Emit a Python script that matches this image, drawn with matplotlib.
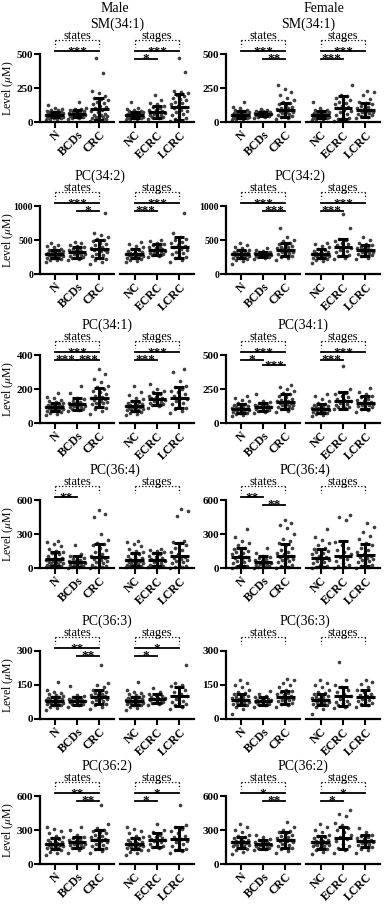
import numpy as np
import matplotlib.pyplot as plt

plt.rcParams['font.family'] = ['Liberation Serif', 'DejaVu Serif']
plt.rcParams['mathtext.fontset'] = 'stix'

states = ['N', 'BCDs', 'CRC']
stages = ['NC', 'ECRC', 'LCRC']
lipids = ['SM(34:1)', 'PC(34:2)', 'PC(34:1)', 'PC(36:4)', 'PC(36:3)', 'PC(36:2)']
ymax_male = [500, 1000, 400, 600, 300, 600]
ymax_female = [500, 1000, 500, 600, 300, 600]

# point values per group: N, BCDs, CRC, NC, ECRC, LCRC
m_sm341 = [
    [18, 22, 25, 28, 30, 33, 35, 38, 40, 42, 44, 46, 48, 50, 52, 54, 56, 58, 60, 62, 64, 66, 68, 70, 73, 76, 80, 85, 90, 95, 100, 122],
    [22, 28, 32, 36, 40, 44, 48, 52, 55, 58, 60, 62, 65, 68, 70, 74, 78, 82, 88, 92, 96, 100, 150],
    [5, 10, 15, 20, 25, 30, 35, 40, 45, 50, 55, 60, 70, 80, 90, 100, 110, 120, 130, 140, 150, 160, 170, 180, 190, 210, 230, 360, 470],
    [18, 22, 25, 28, 30, 33, 35, 38, 40, 42, 45, 48, 50, 52, 54, 56, 58, 60, 62, 65, 68, 70, 74, 78, 82, 88, 95, 100, 150],
    [25, 30, 35, 40, 45, 50, 55, 60, 65, 70, 75, 80, 85, 90, 100, 110, 120, 130, 140, 160, 200],
    [5, 10, 20, 30, 40, 50, 60, 70, 80, 90, 100, 110, 120, 130, 140, 150, 160, 170, 180, 190, 200, 210, 220, 230, 370, 470]]
f_sm341 = [
    [15, 20, 25, 28, 30, 33, 35, 38, 40, 43, 46, 49, 52, 55, 58, 60, 62, 65, 68, 70, 73, 76, 80, 85, 90, 100, 110, 150],
    [30, 35, 40, 44, 47, 50, 52, 54, 56, 58, 60, 62, 64, 66, 68, 70, 74, 78, 82, 88, 92],
    [20, 30, 40, 45, 50, 55, 60, 65, 70, 75, 80, 85, 90, 95, 100, 105, 110, 120, 130, 140, 150, 160, 180, 200, 220, 240, 270],
    [15, 20, 25, 28, 30, 33, 35, 38, 40, 43, 46, 49, 52, 55, 58, 60, 62, 65, 68, 70, 73, 76, 80, 85, 90, 100, 150],
    [10, 15, 20, 30, 40, 50, 60, 70, 80, 90, 100, 110, 120, 130, 140, 150, 160, 170, 180, 190, 200, 270],
    [30, 40, 45, 50, 55, 60, 65, 70, 75, 80, 85, 90, 95, 100, 110, 120, 130, 140, 150, 170, 200, 220, 230]]
m_pc342 = [
    [180, 200, 210, 220, 230, 240, 250, 255, 260, 270, 275, 280, 285, 290, 295, 300, 305, 310, 315, 320, 330, 340, 350, 360, 375, 390, 410, 430, 450],
    [200, 220, 235, 250, 260, 270, 280, 290, 300, 310, 320, 330, 340, 350, 360, 375, 390, 410, 430, 450, 470],
    [150, 180, 200, 220, 240, 260, 280, 300, 320, 340, 350, 360, 370, 380, 400, 420, 440, 460, 480, 500, 520, 550, 580, 600, 900],
    [180, 195, 210, 220, 230, 240, 250, 260, 270, 275, 280, 285, 290, 295, 300, 310, 320, 330, 340, 355, 370, 390, 410, 440, 470],
    [250, 265, 280, 290, 300, 310, 320, 330, 340, 350, 360, 370, 380, 390, 400, 420, 440, 460, 480, 500],
    [180, 210, 230, 250, 270, 290, 310, 330, 350, 370, 390, 410, 430, 450, 470, 500, 520, 550, 600, 900]]
f_pc342 = [
    [150, 190, 210, 220, 230, 240, 250, 260, 270, 275, 280, 285, 290, 295, 300, 305, 310, 320, 330, 340, 350, 360, 380, 400, 420, 450],
    [220, 235, 245, 255, 265, 270, 275, 280, 285, 290, 295, 300, 305, 310, 315, 320, 330, 340, 355, 380],
    [200, 230, 250, 270, 290, 300, 310, 320, 330, 340, 350, 360, 370, 380, 390, 400, 410, 420, 440, 460, 480, 500, 550, 680],
    [160, 190, 210, 220, 230, 240, 250, 260, 270, 275, 280, 285, 290, 295, 300, 310, 320, 330, 340, 350, 370, 390, 410, 440, 460],
    [220, 240, 260, 280, 300, 320, 340, 360, 380, 400, 420, 440, 460, 480, 500, 520, 680, 880],
    [220, 240, 260, 280, 290, 300, 310, 320, 330, 340, 350, 360, 370, 380, 390, 400, 420, 440, 460, 500, 540]]
m_pc341 = [
    [50, 55, 60, 65, 68, 72, 75, 78, 80, 83, 86, 88, 90, 92, 95, 98, 100, 103, 106, 110, 114, 118, 122, 128, 135, 145, 155, 175],
    [70, 75, 80, 85, 88, 92, 95, 98, 100, 104, 108, 112, 116, 120, 125, 130, 140, 150, 175, 220],
    [55, 70, 80, 90, 100, 110, 115, 120, 125, 130, 135, 140, 145, 150, 155, 160, 170, 180, 190, 200, 210, 220, 240, 260, 290, 320],
    [50, 55, 60, 65, 70, 74, 78, 82, 85, 88, 91, 94, 97, 100, 103, 106, 110, 115, 120, 125, 132, 140, 150, 165, 180, 220],
    [90, 100, 105, 110, 115, 120, 125, 130, 135, 140, 145, 150, 155, 160, 170, 180, 190, 200, 230],
    [60, 70, 80, 90, 100, 110, 120, 130, 140, 150, 160, 170, 180, 190, 200, 210, 220, 250, 300, 320]]
f_pc341 = [
    [50, 60, 65, 70, 75, 80, 84, 88, 92, 96, 100, 104, 108, 112, 116, 120, 125, 130, 135, 140, 150, 160, 170, 185, 200],
    [70, 80, 90, 95, 100, 105, 110, 115, 118, 121, 124, 127, 130, 135, 140, 145, 155, 165, 210],
    [80, 90, 100, 110, 115, 120, 125, 130, 135, 140, 145, 150, 155, 160, 165, 170, 180, 190, 200, 210, 220, 235, 250, 265, 280],
    [50, 60, 65, 70, 75, 80, 84, 88, 92, 96, 100, 104, 108, 112, 116, 120, 125, 130, 135, 140, 150, 160, 175, 200, 210],
    [100, 110, 115, 120, 125, 130, 140, 150, 160, 170, 180, 190, 200, 210, 220, 230, 250, 420],
    [80, 95, 105, 115, 120, 125, 130, 135, 140, 145, 150, 155, 160, 170, 180, 190, 200, 215, 230, 260]]
m_pc364 = [
    [5, 10, 15, 20, 25, 30, 35, 40, 45, 50, 55, 60, 65, 70, 75, 80, 90, 100, 110, 120, 130, 140, 150, 170, 190, 210, 230, 240],
    [3, 8, 12, 16, 20, 25, 30, 35, 40, 45, 50, 55, 60, 65, 70, 80, 90, 100, 110, 120, 200],
    [0, 5, 10, 15, 20, 30, 40, 50, 60, 70, 80, 90, 100, 110, 120, 140, 160, 180, 200, 210, 220, 250, 300, 450, 480, 510],
    [5, 10, 15, 20, 25, 30, 35, 40, 45, 50, 55, 60, 65, 70, 75, 80, 90, 100, 110, 120, 130, 140, 150, 170, 190, 210, 230, 240],
    [5, 10, 15, 20, 25, 30, 40, 50, 60, 70, 80, 90, 100, 110, 120, 130, 140, 150, 160, 170],
    [0, 5, 10, 20, 30, 40, 50, 60, 70, 80, 90, 100, 120, 140, 160, 180, 200, 220, 230, 240, 460, 500, 520]]
f_pc364 = [
    [0, 5, 10, 20, 30, 40, 50, 60, 70, 80, 90, 100, 110, 120, 130, 140, 150, 160, 170, 180, 200, 220, 240, 270, 340],
    [0, 5, 10, 15, 20, 25, 30, 35, 40, 45, 50, 55, 60, 70, 80, 90, 100, 110, 130, 180],
    [0, 10, 20, 30, 40, 50, 60, 70, 80, 90, 100, 110, 120, 130, 140, 160, 180, 200, 220, 240, 260, 300, 350, 380, 400, 420],
    [0, 5, 10, 20, 30, 40, 50, 60, 70, 80, 90, 100, 110, 120, 130, 140, 150, 160, 170, 180, 200, 220, 250, 270, 340],
    [0, 10, 20, 30, 40, 60, 80, 100, 120, 140, 160, 180, 200, 230, 420, 450, 470],
    [0, 10, 20, 30, 40, 50, 60, 70, 80, 90, 100, 110, 120, 140, 160, 180, 200, 220, 260, 280, 320, 360, 400]]
m_pc363 = [
    [40, 50, 55, 60, 63, 66, 68, 70, 72, 74, 76, 78, 80, 82, 84, 86, 88, 90, 92, 95, 98, 101, 105, 110, 115, 120, 130, 165],
    [55, 60, 64, 67, 70, 73, 76, 78, 80, 82, 84, 86, 88, 90, 93, 96, 100, 105, 145],
    [45, 55, 60, 65, 70, 75, 80, 85, 88, 92, 96, 100, 104, 108, 112, 116, 120, 125, 130, 140, 150, 160, 240],
    [40, 50, 55, 60, 63, 66, 68, 70, 72, 74, 76, 78, 80, 82, 84, 86, 88, 90, 92, 95, 98, 101, 105, 110, 115, 120, 130, 165],
    [60, 65, 70, 74, 78, 82, 85, 88, 91, 94, 97, 100, 105, 110, 120, 135],
    [45, 55, 60, 65, 70, 75, 80, 90, 100, 110, 120, 130, 140, 145, 150, 160, 240]]
f_pc363 = [
    [20, 45, 55, 60, 64, 68, 71, 74, 77, 80, 83, 86, 89, 92, 95, 98, 102, 106, 110, 115, 120, 130, 140, 150, 160, 170],
    [55, 60, 64, 68, 71, 74, 77, 80, 82, 84, 86, 88, 91, 95, 100, 110, 125],
    [55, 60, 65, 70, 74, 78, 82, 86, 90, 94, 98, 102, 106, 110, 115, 120, 125, 130, 140, 150, 160, 170, 175],
    [20, 45, 55, 60, 64, 68, 71, 74, 77, 80, 83, 86, 89, 92, 95, 98, 102, 106, 110, 115, 120, 130, 140, 150, 160, 170],
    [50, 55, 60, 65, 70, 75, 80, 90, 100, 110, 120, 130, 140, 150, 170, 250],
    [55, 60, 65, 70, 75, 80, 85, 90, 95, 100, 105, 110, 120, 130, 140, 155, 165, 170]]
m_pc362 = [
    [80, 100, 110, 120, 130, 140, 145, 150, 155, 160, 165, 170, 175, 180, 185, 190, 195, 200, 210, 220, 230, 240, 250, 270, 290, 310, 330],
    [100, 125, 140, 150, 160, 165, 170, 175, 180, 185, 190, 195, 200, 210, 220, 230, 240, 260, 300, 330],
    [100, 115, 130, 140, 150, 160, 170, 180, 190, 200, 210, 220, 230, 240, 250, 260, 270, 280, 290, 300, 320, 350, 520],
    [80, 100, 110, 120, 130, 140, 145, 150, 155, 160, 165, 170, 175, 180, 185, 190, 195, 200, 210, 220, 230, 240, 250, 270, 290, 310, 330],
    [120, 140, 150, 160, 170, 180, 190, 200, 210, 215, 220, 230, 240, 250, 260, 280, 300, 350],
    [100, 115, 125, 135, 145, 160, 175, 190, 205, 220, 235, 250, 270, 290, 310, 330, 340, 520]]
f_pc362 = [
    [90, 110, 125, 135, 145, 155, 160, 165, 170, 175, 180, 185, 190, 195, 200, 205, 210, 220, 230, 240, 250, 260, 280, 300, 330, 350],
    [120, 130, 140, 145, 150, 155, 160, 165, 170, 175, 180, 185, 190, 195, 200, 210, 220, 240, 260],
    [100, 115, 130, 140, 150, 160, 170, 180, 190, 200, 205, 210, 220, 230, 240, 250, 260, 270, 280, 290, 300, 330, 370],
    [90, 110, 125, 135, 145, 155, 160, 165, 170, 175, 180, 185, 190, 195, 200, 205, 210, 220, 230, 240, 250, 260, 280, 300, 330, 350],
    [100, 120, 140, 160, 180, 200, 220, 240, 260, 280, 300, 320, 340, 360, 420, 440, 480],
    [100, 120, 135, 150, 160, 170, 180, 185, 190, 195, 200, 210, 220, 230, 240, 250, 260, 280, 320]]

male_points = [m_sm341, m_pc342, m_pc341, m_pc364, m_pc363, m_pc362]
female_points = [f_sm341, f_pc342, f_pc341, f_pc364, f_pc363, f_pc362]

# mean and SD per group
male_means = [[55, 60, 95, 55, 75, 110], [300, 320, 370, 300, 360, 390], [95, 110, 148, 100, 140, 150],
              [80, 55, 100, 75, 75, 105], [80, 80, 98, 80, 90, 100], [180, 190, 215, 180, 210, 225]]
male_sds = [[20, 25, 80, 22, 45, 95], [60, 80, 130, 70, 80, 150], [25, 35, 55, 30, 35, 60],
            [60, 50, 110, 60, 55, 120], [18, 17, 30, 18, 20, 42], [50, 45, 85, 50, 60, 100]]
female_means = [[55, 58, 90, 55, 105, 90], [300, 290, 360, 300, 390, 350], [105, 120, 155, 105, 165, 150],
                [100, 50, 110, 90, 110, 115], [85, 80, 95, 85, 100, 95], [190, 175, 210, 190, 230, 205]]
female_sds = [[25, 15, 50, 25, 85, 50], [60, 40, 90, 65, 130, 80], [35, 30, 55, 35, 60, 45],
              [80, 55, 100, 80, 125, 100], [25, 18, 30, 25, 42, 35], [50, 40, 70, 55, 95, 55]]

# significance: (side, i, j, level, stars)
male_sig = [
    [('L', 0, 2, 0, '***'), ('R', 0, 2, 0, '***'), ('R', 0, 1, 1, '*')],
    [('L', 0, 2, 0, '***'), ('L', 1, 2, 1, '*'), ('R', 0, 2, 0, '***'), ('R', 0, 1, 1, '***')],
    [('L', 0, 2, 0, '***'), ('L', 0, 1, 1, '***'), ('L', 1, 2, 1, '***'), ('R', 0, 2, 0, '***'), ('R', 0, 1, 1, '***')],
    [('L', 0, 1, 0, '**')],
    [('L', 0, 2, 0, '**'), ('L', 1, 2, 1, '**'), ('R', 0, 2, 0, '*'), ('R', 0, 1, 1, '*')],
    [('L', 0, 2, 0, '**'), ('L', 1, 2, 1, '**'), ('R', 0, 2, 0, '*'), ('R', 0, 1, 1, '*')]]
female_sig = [
    [('L', 0, 2, 0, '***'), ('L', 1, 2, 1, '**'), ('R', 0, 2, 0, '***'), ('R', 0, 1, 1, '***')],
    [('L', 0, 2, 0, '***'), ('L', 1, 2, 1, '***'), ('R', 0, 2, 0, '***'), ('R', 0, 1, 1, '***')],
    [('L', 0, 2, 0, '***'), ('L', 0, 1, 1, '*'), ('L', 1, 2, 2, '***'), ('R', 0, 2, 0, '***'), ('R', 0, 1, 1, '***')],
    [('L', 0, 1, 0, '**'), ('L', 1, 2, 1, '**')],
    [],
    [('L', 0, 2, 0, '*'), ('L', 1, 2, 1, '**'), ('R', 0, 2, 0, '*'), ('R', 0, 1, 1, '*')]]

W, H = 387, 906
fig = plt.figure(figsize=(W / 100, H / 100), dpi=100)

row_bottom = [122, 274, 423, 568, 719, 864]
ax_h = 68
ax_w = 74
col_left = [(40, 120), (226, 306)]
title_x = [[117, 100, 107, 115, 107, 107], [308, 300, 303, 305, 305, 303]]
level_y = [1.04, 0.93, 0.85]


def fx(px):
    return px / W


def fy(py):
    return 1 - py / H


def draw_side(ax, groups, means, sds, ymax, labels, first):
    for i, vals in enumerate(groups):
        offs = [((k * 0.618034) % 1 - 0.5) * 0.8 for k in range(len(vals))]
        ax.scatter([i + o for o in offs], vals, s=7, color='#404040', lw=0, zorder=2, clip_on=False)
        m, s = means[i], sds[i]
        kw = dict(color='black', lw=2.2, zorder=3, solid_capstyle='butt')
        ax.plot([i - 0.42, i + 0.42], [m, m], **kw)
        ax.plot([i, i], [m - s, m + s], **kw)
        ax.plot([i - 0.22, i + 0.22], [m + s, m + s], **kw)
        ax.plot([i - 0.22, i + 0.22], [m - s, m - s], **kw)
    ax.set_xlim(-0.65, 2.65)
    ax.set_ylim(0, ymax)
    ax.set_xticks(range(3))
    ax.set_xticklabels(labels, rotation=45, ha='right', rotation_mode='anchor',
                       fontsize=8.5, fontweight='bold')
    for sp in ['top', 'right']:
        ax.spines[sp].set_visible(False)
    ax.spines['bottom'].set_linewidth(1.6)
    ax.spines['left'].set_linewidth(1.6)
    ax.tick_params(axis='both', length=4, width=1.5, pad=1)
    if first:
        ax.set_yticks([0, ymax / 2, ymax])
        fs = 7 if ymax >= 1000 else 8
        ax.set_yticklabels(['%d' % v for v in [0, ymax / 2, ymax]], fontsize=fs, fontweight='bold')
    else:
        ax.spines['left'].set_visible(False)
        ax.set_yticks([])
    # dotted group bracket
    name = 'states' if first else 'stages'
    tr = ax.get_xaxis_transform()
    dk = dict(transform=tr, color='black', lw=0.9, ls=':', clip_on=False)
    ax.plot([0, 2], [1.2, 1.2], **dk)
    ax.plot([0, 0], [1.2, 1.1], **dk)
    ax.plot([2, 2], [1.2, 1.1], **dk)
    ax.text(1, 1.215, name, transform=tr, ha='center', va='baseline', fontsize=9)


for c, (pts, means, sds, sig, ymaxs) in enumerate([
        (male_points, male_means, male_sds, male_sig, ymax_male),
        (female_points, female_means, female_sds, female_sig, ymax_female)]):
    for r in range(6):
        b = row_bottom[r]
        axes = {}
        for side, xl in zip(['L', 'R'], col_left[c]):
            ax = fig.add_axes([fx(xl), fy(b), ax_w / W, ax_h / H])
            k0 = 0 if side == 'L' else 3
            draw_side(ax, pts[r][k0:k0 + 3], means[r][k0:k0 + 3], sds[r][k0:k0 + 3], ymaxs[r],
                      states if side == 'L' else stages, side == 'L')
            axes[side] = ax
        if c == 0:
            fig.text(fx(8), fy(b - ax_h / 2), 'Level ($\\mu$M)', rotation=90,
                     ha='center', va='center', fontsize=8.5)
        for side, i, j, lev, stars in sig[r]:
            ax = axes[side]
            tr = ax.get_xaxis_transform()
            y = level_y[lev]
            ax.plot([i, j], [y, y], transform=tr, color='black', lw=1.3, clip_on=False)
            ax.annotate(stars, ((i + j) / 2, y), xycoords=tr, xytext=(0, -2.4),
                        textcoords='offset points', ha='center', va='baseline',
                        fontsize=9.5, fontweight='bold', annotation_clip=False)
        fig.text(fx(title_x[c][r]), fy(b - ax_h - 30), lipids[r], ha='center', va='center', fontsize=10)

fig.text(fx(115), fy(8), 'Male', ha='center', va='center', fontsize=10)
fig.text(fx(324), fy(8), 'Female', ha='center', va='center', fontsize=10)

fig.savefig('out.png', dpi=100)
